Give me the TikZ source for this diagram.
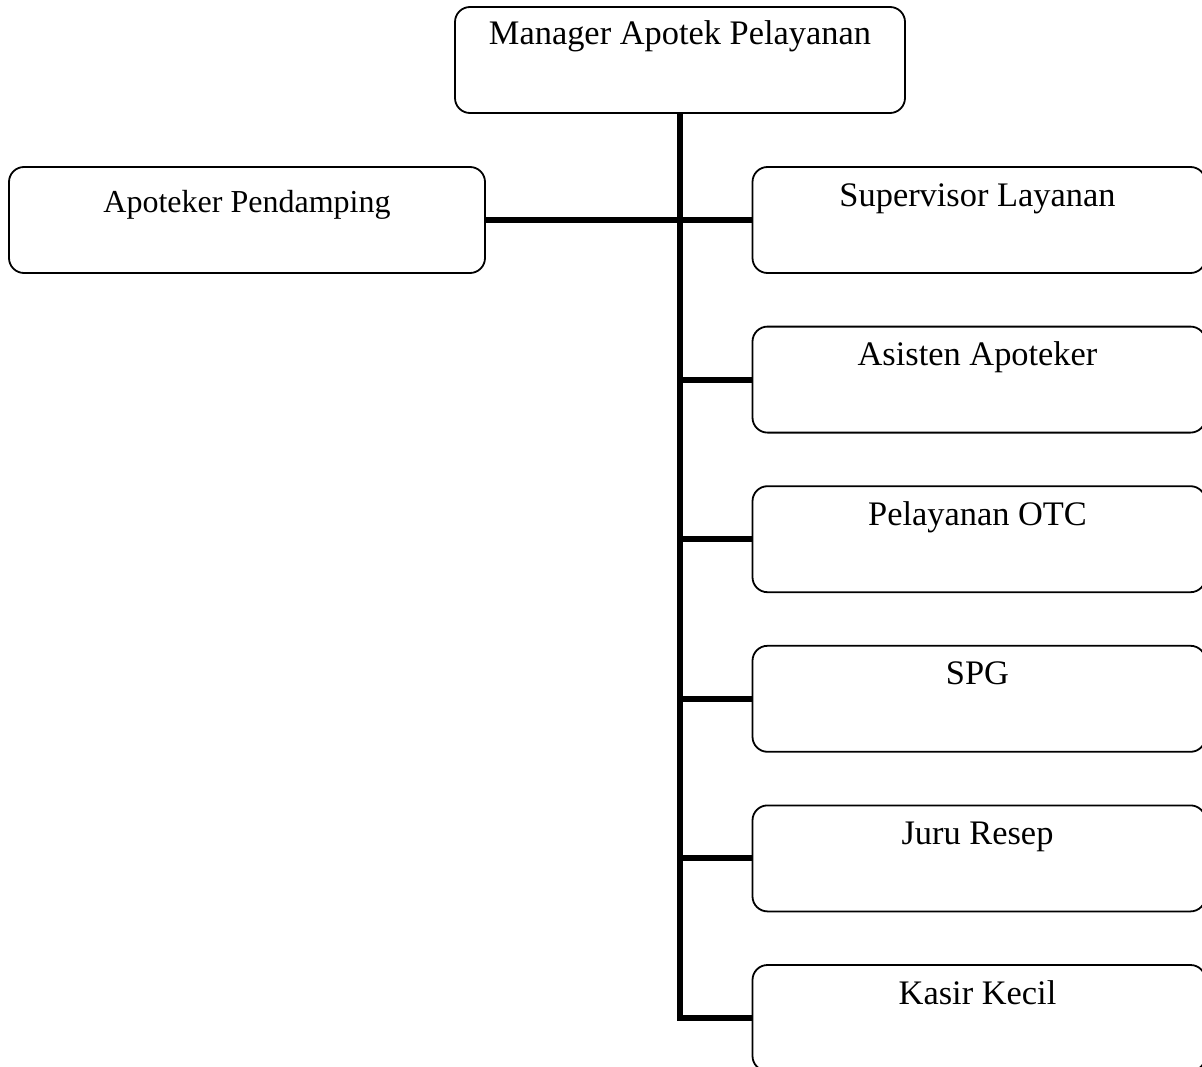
\documentclass[tikz,border=0pt]{standalone}
\usepackage{fontspec}
\setmainfont{Liberation Serif}
\begin{document}
\begin{tikzpicture}[x=1pt,y=-1pt,
  orgbox/.style={draw=black, line width=1.8pt, rounded corners=15pt,
    rectangle, inner sep=0pt, minimum height=106pt},
  lbl/.style={anchor=base, inner sep=0pt, font=\fontsize{34.4}{40}\selectfont},
  link/.style={draw=black, line width=6pt}]
  \useasboundingbox (0,0) rectangle (1202,1067);
  \clip (0,0) rectangle (1202,1067);

  % head of the unit
  \node[orgbox, minimum width=450pt] (mgr) at (680,60) {};
  \node[lbl] at ([yshift=-38pt]mgr.north) {Manager Apotek Pelayanan};

  % staff beside the manager
  \node[orgbox, minimum width=476pt] (pend) at (247,220) {};
  \node[lbl, font=\fontsize{32}{38}\selectfont] at ([yshift=-46pt]pend.north) {Apoteker Pendamping};

  % staff under the manager
  \foreach \n/\t [count=\i from 0] in {sup/Supervisor Layanan, asis/Asisten Apoteker,
      otc/Pelayanan OTC, spg/SPG, juru/Juru Resep, kasir/Kasir Kecil} {
    \node[orgbox, minimum width=453pt] (\n) at (979,{220+159.6*\i}) {};
    \node[lbl] at ([xshift=-1.5pt,yshift=-40pt]\n.north) {\t};
  }

  % connectors
  \draw[link, line join=miter] (mgr.south) |- (kasir.west);
  \foreach \n in {sup,asis,otc,spg,juru}
    \draw[link] (mgr.south |- \n.west) -- (\n.west);
  \draw[link] (pend.east) -- (mgr.south |- pend.east);
\end{tikzpicture}
\end{document}
